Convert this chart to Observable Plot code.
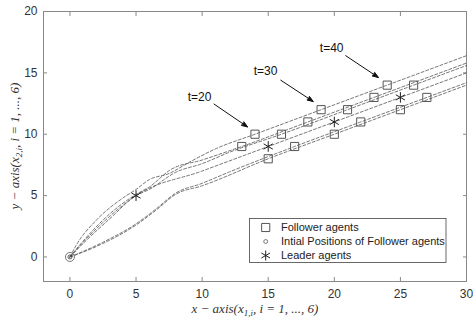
<!DOCTYPE html>
<html><head><meta charset="utf-8">
<script src="https://cdn.jsdelivr.net/npm/d3@7"></script>
<script src="https://cdn.jsdelivr.net/npm/@observablehq/plot@0.6"></script>
<style>body{margin:0;background:#fff}</style>
</head><body><div id="chart"></div>
<script>
const xTicks = [0, 5, 10, 15, 20, 25, 30];
const yTicks = [0, 5, 10, 15, 20];

// trajectories
const followerA = [[0,0],[0.5,1],[2,3],[4,4.8],[5,5.5],[6,6.3],[7.5,6.8],[9,7.7],[11,8.8],[14,10],[19,12],[24,14],[30,16.4]];
const followerB = [[0,0],[1,1.3],[3,3.5],[5,5.1],[6,5.7],[7.6,7.1],[10,7.9],[13,9],[18,11],[23,13],[30,15.8]];
const followerC = [[0,0],[1,1.1],[3,3.1],[5,5],[6,5.5],[8,6.9],[10,7.6],[12,8.5],[16,10],[21,12],[26,14],[30,15.6]];
const leader    = [[0,0],[1,1.2],[3,3.3],[5,5],[10,7],[15,9],[20,11],[25,13],[30,15]];
const followerD = [[0,0],[1,0.45],[2.5,1.2],[5,2.7],[6.5,3.9],[8,5.2],[10,6],[12,6.9],[17,9],[22,11],[27,13],[30,14.2]];
const followerE = [[0,0],[1,0.4],[2.5,1.1],[5,2.6],[6.5,3.8],[8,5.1],[10,5.8],[15,8],[20,10],[25,12],[30,14]];

const followerPositions = [
  [14,10],[13,9],[16,10],[17,9],[15,8],
  [19,12],[18,11],[21,12],[22,11],[20,10],
  [24,14],[23,13],[26,14],[27,13],[25,12]
];
const leaderPositions = [[5,5],[15,9],[20,11],[25,13]];
const initialPositions = [[0,0]];

const annLabels = ["t=20", "t=30", "t=40"];
const annText = [[9.8,13.05],[14.8,15.1],[19.8,17.05]];
const annArrowFrom = [[10.9,12.46],[15.95,14.4],[20.86,16.4]];
const annArrowTo = [[13.43,10.6],[18.4,12.67],[23.33,14.63]];

const legendLabels = ["Follower agents", "Intial Positions of Follower agents", "Leader agents"];

const trajectories = [followerA, followerB, followerC, leader, followerD, followerE]
  .flatMap((pts, k) => pts.map(([x, y]) => ({k, x, y})));
const anns = annLabels.map((label, i) => ({
  label, tx: annText[i][0], ty: annText[i][1],
  x1: annArrowFrom[i][0], y1: annArrowFrom[i][1], x2: annArrowTo[i][0], y2: annArrowTo[i][1]
}));

const fx = d => d[0], fy = d => d[1];
const gray = "#888";

const plot = Plot.plot({
  width: 473, height: 320,
  marginLeft: 43, marginRight: 7, marginTop: 11, marginBottom: 39,
  x: {domain: [-2, 30]},
  y: {domain: [-2, 20]},
  style: {fontFamily: "'Liberation Sans', Arial, sans-serif", fontSize: "12px", color: "#333", background: "white", overflow: "visible"},
  marks: [
    Plot.axisX(xTicks, {anchor: "bottom", tickSize: -4, tickPadding: 12, label: null, stroke: gray}),
    Plot.axisX(xTicks, {anchor: "top", tickSize: -4, tickFormat: () => "", label: null, stroke: gray}),
    Plot.axisY(yTicks, {anchor: "left", tickSize: -4, tickPadding: 10, label: null, stroke: gray}),
    Plot.axisY(yTicks, {anchor: "right", tickSize: -4, tickFormat: () => "", label: null, stroke: gray}),
    Plot.frame({stroke: gray, strokeWidth: 1}),
    Plot.line(trajectories, {x: "x", y: "y", z: "k", stroke: "#555", strokeWidth: 0.8, strokeDasharray: "3,2", curve: "monotone-x"}),
    Plot.dot(followerPositions, {x: fx, y: fy, symbol: "square", r: 4.6, stroke: "#555", strokeWidth: 1, fill: "none"}),
    Plot.dot(leaderPositions, {x: fx, y: fy, symbol: "asterisk", r: 5, stroke: "#222", strokeWidth: 1}),
    Plot.dot(initialPositions, {x: fx, y: fy, r: 4.5, stroke: "#555", strokeWidth: 0.8, fill: "none"}),
    Plot.dot(initialPositions, {x: fx, y: fy, r: 2, stroke: "#333", strokeWidth: 0.8, fill: "none"}),
    Plot.arrow(anns, {x1: "x1", y1: "y1", x2: "x2", y2: "y2", stroke: "#111", strokeWidth: 1, headLength: 9, headAngle: 40}),
    Plot.text(anns, {x: "tx", y: "ty", text: "label", fill: "#111", fontSize: 12})
  ]
});

const svg = d3.select(plot);
// fill arrowheads
svg.selectAll("g[aria-label='arrow'] path").each(function() {
  const n = (this.getAttribute("d").match(/-?\d*\.?\d+(e-?\d+)?/g) || []).map(Number);
  if (n.length >= 10) {
    d3.select(this.parentNode).append("path")
      .attr("d", `M${n[4]},${n[5]}L${n[6]},${n[7]}L${n[8]},${n[9]}Z`)
      .attr("fill", "#111").attr("stroke", "#111").attr("stroke-width", 0.5);
  }
});

// axis titles (math style)
const xl = svg.append("text").attr("x", 255).attr("y", 313).attr("text-anchor", "middle")
  .attr("font-family", "'Liberation Serif', 'Times New Roman', serif").attr("font-size", 13)
  .attr("font-style", "italic").attr("fill", "#333");
xl.append("tspan").text("x − axis(x");
xl.append("tspan").attr("font-size", 9).attr("dy", 3).text("1,i");
xl.append("tspan").attr("dy", -3).text(", i = 1, ..., 6)");

const yl = svg.append("text").attr("transform", "translate(19,146) rotate(-90)").attr("text-anchor", "middle")
  .attr("font-family", "'Liberation Serif', 'Times New Roman', serif").attr("font-size", 13)
  .attr("font-style", "italic").attr("fill", "#333");
yl.append("tspan").text("y − axis(x");
yl.append("tspan").attr("font-size", 9).attr("dy", 3).text("2,i");
yl.append("tspan").attr("dy", -3).text(", i = 1, ..., 6)");

// legend
const lg = svg.append("g");
lg.append("rect").attr("x", 249.5).attr("y", 218.5).attr("width", 196.5).attr("height", 44)
  .attr("fill", "white").attr("stroke", "#444").attr("stroke-width", 0.8);
const rows = [227.5, 241.5, 255.5];
const syms = [
  d3.symbol(d3.symbolSquare, 66)(),
  d3.symbol(d3.symbolCircle, 12)(),
  d3.symbol(d3.symbolAsterisk, 70)()
];
legendLabels.forEach((t, i) => {
  lg.append("path").attr("d", syms[i]).attr("transform", `translate(265.7,${rows[i]})`)
    .attr("fill", "none").attr("stroke", i === 2 ? "#222" : "#555").attr("stroke-width", i === 1 ? 0.8 : 1);
  lg.append("text").attr("x", 281).attr("y", rows[i]).attr("dy", "0.35em").attr("text-anchor", "start")
    .attr("font-family", "'Liberation Sans', Arial, sans-serif").attr("font-size", 11).attr("fill", "#222").text(t);
});

document.getElementById("chart").appendChild(plot);
</script>
</body></html>
